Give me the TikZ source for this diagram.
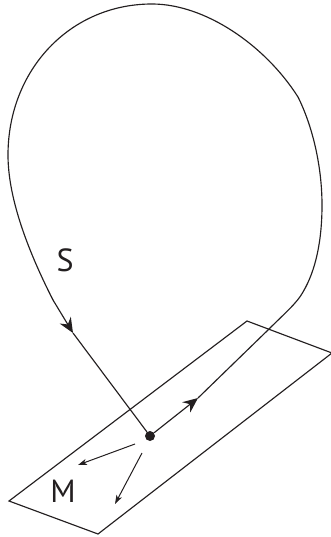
\documentclass[tikz,border=0pt]{standalone}
\usepackage{fontspec}
\setsansfont{PT Sans}
\usetikzlibrary{arrows.meta}
\definecolor{ink}{HTML}{231F20}

\begin{document}
\begin{tikzpicture}[
  x=1pt, y=-1pt,
  line/.style={draw=ink, line width=1.15pt},
  flow/.style={line, -{Stealth[length=15pt, width=13pt, inset=5pt]}},
  vec/.style={draw=ink, line width=1pt, -{Stealth[length=9pt, width=6pt, inset=2.5pt]}},
  point/.style={circle, fill=ink, inner sep=0pt, minimum size=10pt},
  label/.style={text=ink, font=\sffamily\fontsize{32}{32}\selectfont, inner sep=0pt}
]
\useasboundingbox (0,0) rectangle (331,537);

% tangent plane
\coordinate (pa) at (247,321);
\coordinate (pb) at (332,353);
\coordinate (pc) at (98,534);
\coordinate (pd) at (9,501);
\draw[line, line join=miter] (pa) -- (pb) -- (pc) -- (pd) -- cycle;

\node[point] (base) at (150,436) {};
\node[label] (manifold) at (63,491) {M};
\node[label] (orbit) at (65,260) {S};

% closed orbit
\coordinate (intip) at (73,333);
\coordinate (outtip) at (198,398);
\draw[flow] (53,300) -- (intip);
\draw[line] (intip) -- (base);
\draw[flow] (base) -- (outtip);
\draw[line] (outtip) -- (268,330)
  .. controls (285,313) and (297,303) .. (303,292)
  .. controls (316,270) and (322,240) .. (322,205)
  .. controls (322,165) and (312,125) .. (298,97)
  .. controls (265,45) and (205,4) .. (152,4)
  .. controls (70,4) and (8,70) .. (8,155)
  .. controls (8,195) and (25,245) .. (53,300);

% tangent vectors
\coordinate (va) at (135,444);
\coordinate (vb) at (78,465);
\coordinate (vc) at (142,453);
\coordinate (vd) at (115,504);
\draw[vec] (va) -- (vb);
\draw[vec] (vc) -- (vd);
\end{tikzpicture}
\end{document}
